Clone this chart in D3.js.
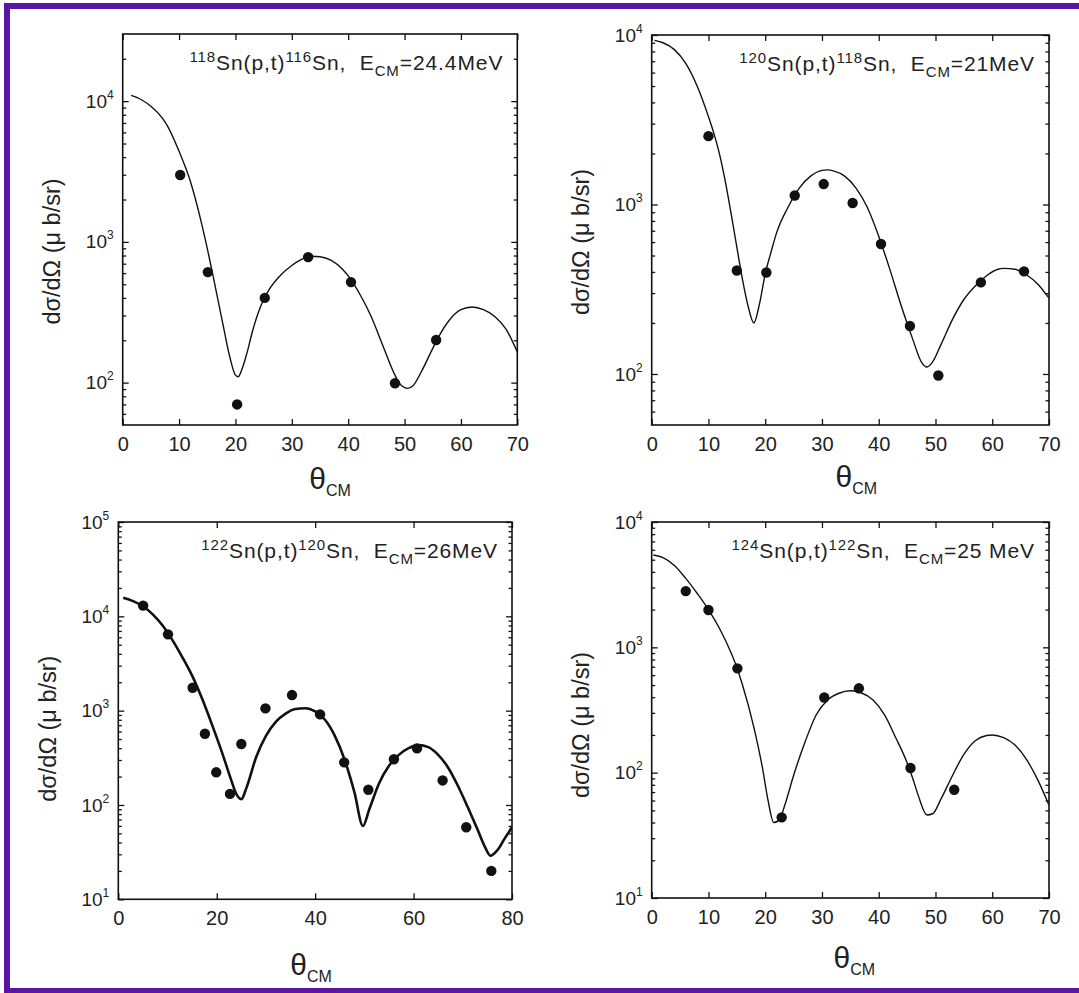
<!DOCTYPE html>
<html>
<head>
<meta charset="utf-8">
<script src="https://cdn.jsdelivr.net/npm/d3@7"></script>
<style>
  html, body { margin: 0; padding: 0; background: #fff; }
  svg { display: block; font-family: "Liberation Sans", Arial, Helvetica, sans-serif; }
</style>
</head>
<body>
<svg id="chart" width="1079" height="993"></svg>
<script>
// ---------- DATA ----------
// Panel 1: 118Sn(p,t)116Sn, E_CM = 24.4 MeV
const p1ExpTheta = [10.2, 15.1, 20.3, 25.2, 32.9, 40.5, 48.3, 55.6];
const p1ExpSigma = [2985, 610, 70, 400, 780, 518, 99, 201];
const p1CurveTheta = [1.5, 3, 5, 7, 8, 10, 12, 14, 15, 16, 17, 18, 19, 20, 20.5, 21, 22, 23, 24, 25, 26, 28, 30, 32, 33.5, 35, 37, 39, 40.5, 42, 44, 46, 48, 49, 50, 50.5, 51.5, 53, 55, 56, 58, 60, 62, 64, 66, 68, 70];
const p1CurveSigma = [11000, 10400, 9200, 7600, 6600, 4400, 2700, 1350, 900, 580, 370, 235, 152, 113, 110, 120, 160, 230, 310, 390, 460, 580, 680, 760, 790, 785, 740, 640, 540, 430, 300, 190, 120, 100, 92, 91, 95, 120, 175, 210, 280, 330, 345, 330, 295, 240, 165];

// Panel 2: 120Sn(p,t)118Sn, E_CM = 21 MeV
const p2ExpTheta = [10.0, 15.0, 20.2, 25.2, 30.3, 35.4, 40.4, 45.5, 50.5, 58.0, 65.6];
const p2ExpSigma = [2530, 408, 397, 1130, 1320, 1020, 585, 192, 98, 347, 403];
const p2CurveTheta = [0.5, 2, 4, 6, 8, 10, 11, 12, 13, 14, 15, 16, 17, 18, 19, 20, 21, 22, 24, 26, 28, 30, 31, 32, 34, 36, 38, 40, 42, 44, 46, 47.5, 48.5, 49.5, 51, 53, 55, 57, 59, 61, 62, 64, 66, 68, 70];
const p2CurveSigma = [9300, 9000, 8200, 6800, 5000, 3300, 2600, 1950, 1350, 880, 560, 360, 250, 200, 260, 390, 520, 680, 960, 1250, 1470, 1590, 1600, 1580, 1470, 1250, 960, 650, 410, 250, 160, 118, 110, 118, 150, 210, 275, 330, 380, 415, 420, 415, 385, 340, 280];

// Panel 3: 122Sn(p,t)120Sn, E_CM = 26 MeV
const p3ExpTheta = [5.05, 10.1, 15.1, 17.6, 19.9, 22.7, 25.0, 29.9, 35.3, 41.0, 45.9, 50.8, 56.0, 60.7, 65.9, 70.7, 75.8];
const p3ExpSigma = [12970, 6440, 1750, 569, 222, 131, 443, 1057, 1463, 912, 283, 145, 305, 398, 182, 58, 20];
const p3CurveTheta = [1, 3, 5, 7, 9, 11, 13, 15, 17, 19, 21, 23, 24, 25, 26, 28, 30, 32, 34, 36, 38, 40, 42, 44, 46, 48, 49.7, 51, 53, 55, 57, 59, 61, 63, 65, 67, 69, 71, 73, 74.5, 75.6, 77, 78.5, 80];
const p3CurveSigma = [15700, 14500, 12800, 10500, 8000, 5600, 3700, 2350, 1350, 720, 370, 180, 130, 115, 150, 320, 540, 760, 930, 1040, 1060, 980, 800, 540, 300, 135, 60, 90, 170, 260, 340, 400, 431, 410, 340, 250, 160, 95, 55, 36, 29, 33, 44, 58];

// Panel 4: 124Sn(p,t)122Sn, E_CM = 25 MeV
const p4ExpTheta = [6.0, 10.0, 15.1, 22.9, 30.4, 36.5, 45.6, 53.3];
const p4ExpSigma = [2810, 1985, 680, 44, 398, 471, 109, 73];
const p4CurveTheta = [0.3, 2, 4, 6, 8, 10, 12, 14, 15, 16, 18, 19.5, 20.5, 21.5, 22.5, 23.5, 25, 27, 29, 31, 33, 35, 37, 39, 41, 43, 45, 46, 47, 48.5, 49.5, 51, 53, 55, 57, 59, 60, 62, 64, 66, 68, 70];
const p4CurveSigma = [5450, 5200, 4500, 3550, 2700, 2000, 1400, 900, 690, 500, 230, 110, 60, 40, 42, 56, 95, 175, 290, 380, 430, 450, 432, 380, 290, 190, 120, 90, 65, 46, 47, 62, 95, 140, 180, 198, 200, 190, 166, 128, 88, 55];

// Titles
const titleTarget = ["118", "120", "122", "124"];
const titleResidual = ["116", "118", "120", "122"];
const titleEnergy = ["=24.4MeV", "=21MeV", "=26MeV", "=25 MeV"];

// Axis ticks
const xTicksP1 = [0, 10, 20, 30, 40, 50, 60, 70];
const xTicksP2 = [0, 10, 20, 30, 40, 50, 60, 70];
const xTicksP3 = [0, 20, 40, 60, 80];
const xTicksP4 = [0, 10, 20, 30, 40, 50, 60, 70];
const yDecadesP1 = [2, 3, 4];
const yDecadesP2 = [2, 3, 4];
const yDecadesP3 = [1, 2, 3, 4, 5];
const yDecadesP4 = [1, 2, 3, 4];
const yLabelText = "dσ/dΩ (μ b/sr)";

// ---------- LAYOUT ----------
const panels = [
  { left: 122.7, right: 517.3, top: 34, bottom: 425, xMax: 70, yDom: [50, 30000], xTicks: xTicksP1, yDec: yDecadesP1,
    exp: [p1ExpTheta, p1ExpSigma], curve: [p1CurveTheta, p1CurveSigma], lw: 1.4, xlabDy: 54, xlabDx: 10, ylabDy: 22 },
  { left: 651.7, right: 1049, top: 35, bottom: 425, xMax: 70, yDom: [50, 10000], xTicks: xTicksP2, yDec: yDecadesP2,
    exp: [p2ExpTheta, p2ExpSigma], curve: [p2CurveTheta, p2CurveSigma], lw: 1.4, xlabDy: 52, xlabDx: 6, ylabDy: 12 },
  { left: 118.3, right: 512, top: 522, bottom: 899.3, xMax: 80, yDom: [10, 100000], xTicks: xTicksP3, yDec: yDecadesP3,
    exp: [p3ExpTheta, p3ExpSigma], curve: [p3CurveTheta, p3CurveSigma], lw: 2.6, xlabDy: 66, xlabDx: -4, ylabDy: 18 },
  { left: 651.7, right: 1049, top: 522, bottom: 898, xMax: 70, yDom: [10, 10000], xTicks: xTicksP4, yDec: yDecadesP4,
    exp: [p4ExpTheta, p4ExpSigma], curve: [p4CurveTheta, p4CurveSigma], lw: 1.4, xlabDy: 60, xlabDx: 4, ylabDy: 15 }
];

const svg = d3.select("#chart");
svg.append("rect").attr("x", 0).attr("y", 0).attr("width", 1079).attr("height", 993).attr("fill", "#fff");

const ink = "#111";
const txt = "#222";

panels.forEach((p, i) => {
  const g = svg.append("g");
  const x = d3.scaleLinear().domain([0, p.xMax]).range([p.left, p.right]);
  const y = d3.scaleLog().domain(p.yDom).range([p.bottom, p.top]);

  // minor log ticks
  const minor = [];
  const lo = Math.floor(Math.log10(p.yDom[0])), hi = Math.ceil(Math.log10(p.yDom[1]));
  for (let d = lo; d < hi; d++) for (let k = 2; k <= 9; k++) {
    const v = k * Math.pow(10, d);
    if (v > p.yDom[0] && v < p.yDom[1]) minor.push(v);
  }
  const majors = p.yDec.map(e => Math.pow(10, e));

  const gb = g.append("g").attr("transform", `translate(0,${p.bottom})`)
    .call(d3.axisBottom(x).tickValues(p.xTicks).tickSizeInner(-6).tickSizeOuter(0).tickPadding(12).tickFormat(d3.format("d")));
  const gt = g.append("g").attr("transform", `translate(0,${p.top})`)
    .call(d3.axisTop(x).tickValues(p.xTicks).tickSizeInner(-6).tickSizeOuter(0).tickFormat(""));
  const gl = g.append("g").attr("transform", `translate(${p.left},0)`)
    .call(d3.axisLeft(y).tickValues(majors).tickSizeInner(-6).tickSizeOuter(0).tickPadding(9).tickFormat(""));
  const glm = g.append("g").attr("transform", `translate(${p.left},0)`)
    .call(d3.axisLeft(y).tickValues(minor).tickSizeInner(-3.5).tickSizeOuter(0).tickFormat(""));
  const gr = g.append("g").attr("transform", `translate(${p.right},0)`)
    .call(d3.axisRight(y).tickValues(majors).tickSizeInner(-6).tickSizeOuter(0).tickFormat(""));
  const grm = g.append("g").attr("transform", `translate(${p.right},0)`)
    .call(d3.axisRight(y).tickValues(minor).tickSizeInner(-3.5).tickSizeOuter(0).tickFormat(""));

  [gb, gt, gl, glm, gr, grm].forEach(a => {
    a.select(".domain").remove();
    a.selectAll("line").attr("stroke", ink).attr("stroke-width", 1.3);
  });
  gb.selectAll("text").attr("font-size", 20).attr("fill", txt).attr("font-family", "Liberation Sans, Arial, sans-serif");

  gl.selectAll(".tick").each(function(d) {
    const t = d3.select(this).select("text");
    t.attr("font-size", 19).attr("fill", txt).attr("font-family", "Liberation Sans, Arial, sans-serif").attr("dy", "0.32em");
    t.append("tspan").text("10");
    t.append("tspan").attr("font-size", 12).attr("dy", "-0.75em").text(String(Math.round(Math.log10(d))));
  });

  g.append("rect").attr("x", p.left).attr("y", p.top).attr("width", p.right - p.left).attr("height", p.bottom - p.top)
    .attr("fill", "none").attr("stroke", ink).attr("stroke-width", 1.6);

  const cid = "clip" + i;
  svg.append("clipPath").attr("id", cid).append("rect")
    .attr("x", p.left).attr("y", p.top).attr("width", p.right - p.left).attr("height", p.bottom - p.top);

  const cdata = p.curve[0].map((t, j) => [t, p.curve[1][j]]);
  const line = d3.line().x(d => x(d[0])).y(d => y(d[1])).curve(d3.curveMonotoneX);
  g.append("path").datum(cdata).attr("d", line).attr("fill", "none").attr("stroke", ink)
    .attr("stroke-width", p.lw).attr("clip-path", `url(#${cid})`);

  const edata = p.exp[0].map((t, j) => [t, p.exp[1][j]]);
  g.selectAll("circle.pt").data(edata).enter().append("circle").attr("class", "pt")
    .attr("cx", d => x(d[0])).attr("cy", d => y(d[1])).attr("r", 5.2).attr("fill", ink);

  // title
  const tt = g.append("text").attr("x", p.right - 14).attr("y", p.top + 36).attr("text-anchor", "end")
    .attr("font-size", 21).attr("letter-spacing", 0.9).attr("fill", txt);
  tt.append("tspan").attr("font-size", 15).attr("dy", -8).text(titleTarget[i]);
  tt.append("tspan").attr("dy", 8).text("Sn(p,t)");
  tt.append("tspan").attr("font-size", 15).attr("dy", -8).text(titleResidual[i]);
  tt.append("tspan").attr("dy", 8).text("Sn,\u00a0\u00a0E");
  tt.append("tspan").attr("font-size", 15).attr("dy", 6).text("CM");
  tt.append("tspan").attr("dy", -6).text(titleEnergy[i]);

  // y label
  const cy = (p.top + p.bottom) / 2 + p.ylabDy;
  const lx = p.left - 71;
  g.append("text").attr("transform", `translate(${lx},${cy}) rotate(-90)`).attr("text-anchor", "middle")
    .attr("dy", "0.35em").attr("font-size", 23.5).attr("fill", txt).text(yLabelText);

  // x label
  const xl = g.append("text").attr("x", (p.left + p.right) / 2 + p.xlabDx).attr("y", p.bottom + p.xlabDy + 10)
    .attr("text-anchor", "middle").attr("fill", txt);
  xl.append("tspan").attr("font-size", 30).text("θ");
  xl.append("tspan").attr("font-size", 16).attr("dy", 7).text("CM");
});

// outer purple border (right side cut off)
svg.append("rect").attr("x", 7).attr("y", 6).attr("width", 1110).attr("height", 985)
  .attr("fill", "none").attr("stroke", "#5a15a6").attr("stroke-width", 6);
</script>
</body>
</html>
